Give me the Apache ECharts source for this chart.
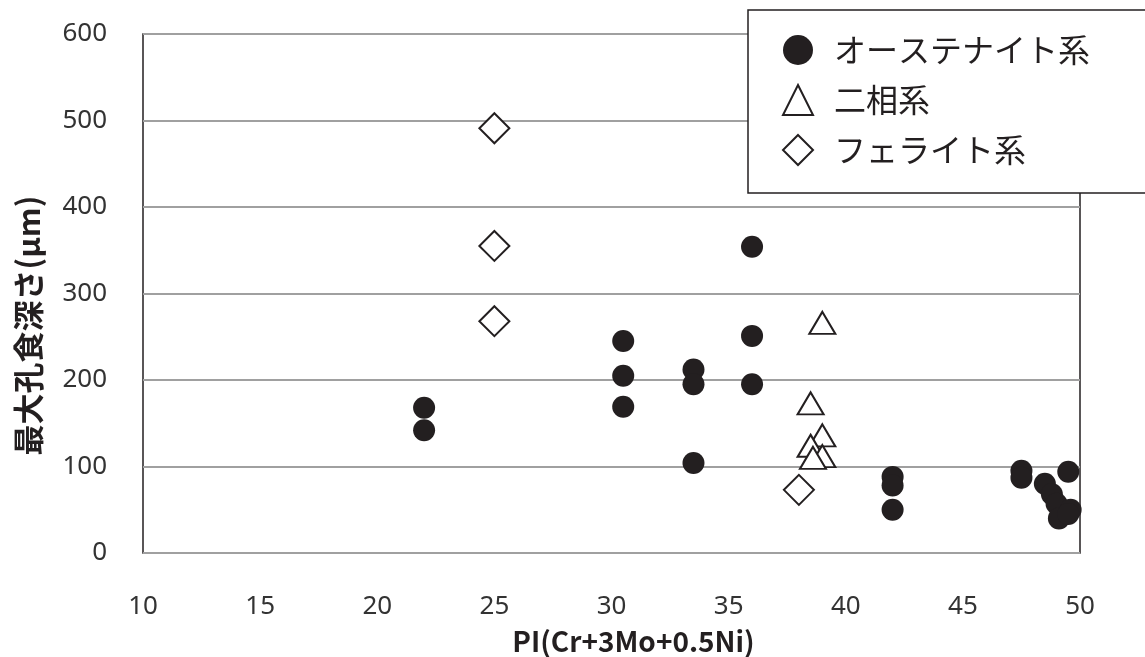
<!DOCTYPE html>
<html><head><meta charset="utf-8">
<script src="https://cdn.jsdelivr.net/npm/echarts@6/dist/echarts.min.js"></script>
<style>html,body{margin:0;padding:0;background:#fff}#c{width:1145px;height:657px}</style>
</head><body><div id="c"></div>
<script>
const seriesNames = ['オーステナイト系', '二相系', 'フェライト系'];
const austenite = [
  [22, 168], [22, 142],
  [30.5, 245], [30.5, 205], [30.5, 169],
  [33.5, 212], [33.5, 195], [33.5, 104],
  [36, 354], [36, 251], [36, 195],
  [42, 88], [42, 78], [42, 50],
  [47.5, 95], [47.5, 87], [48.5, 80], [48.8, 68], [49, 57], [49.1, 40],
  [49.5, 94], [49.6, 50], [49.5, 45]
];
const duplex = [
  [39, 266], [38.5, 173], [39, 136], [38.5, 124], [39, 112], [38.6, 110]
];
const ferrite = [
  [25, 491], [25, 355], [25, 268], [38, 73]
];
const xTicks = {min: 10, max: 50, step: 5};
const yTicks = {min: 0, max: 600, step: 100};
const xTitle = 'PI(Cr+3Mo+0.5Ni)';
const yTitle = '最大孔食深さ(μm)';

const FONT = '"Noto Sans CJK JP", "Noto Sans", sans-serif';
const INK = '#231f20';
const chart = echarts.init(document.getElementById('c'));
chart.setOption({
  animation: false,
  textStyle: {fontFamily: FONT},
  grid: {left: 143, top: 34, right: 65, bottom: 104, show: true, borderColor: INK, borderWidth: 1.5,
         containLabel: false, outerBoundsMode: 'none'},
  xAxis: {
    type: 'value', min: xTicks.min, max: xTicks.max, interval: xTicks.step,
    axisLine: {show: false}, axisTick: {show: false}, splitLine: {show: false},
    axisLabel: {fontSize: 26, color: '#333', margin: 41, fontFamily: '"Noto Sans", sans-serif'},
    name: xTitle, nameLocation: 'middle', nameGap: 74,
    nameTextStyle: {fontSize: 28, fontWeight: 'bold', color: INK, fontFamily: FONT, padding: [0, 0, 0, 44]}
  },
  yAxis: {
    type: 'value', min: yTicks.min, max: yTicks.max, interval: yTicks.step,
    axisLine: {show: false}, axisTick: {show: false},
    splitLine: {show: true, lineStyle: {color: '#a0a0a0', width: 2}},
    axisLabel: {fontSize: 26, color: '#333', margin: 36, fontFamily: '"Noto Sans", sans-serif'},
    name: yTitle, nameLocation: 'middle', nameGap: 99, nameRotate: 90,
    nameTextStyle: {fontSize: 31, fontWeight: 'bold', color: INK, fontFamily: FONT, padding: [0, 64, 0, 0]}
  },
  graphic: [{
    type: 'rect', z: 50, shape: {x: 748, y: 10, width: 420, height: 183},
    style: {fill: '#fff', stroke: INK, lineWidth: 1.5}
  }],
  legend: {
    z: 60, orient: 'vertical', left: 777, top: 29, itemGap: 18, itemWidth: 30, itemHeight: 30,
    textStyle: {fontSize: 32, lineHeight: 32, color: INK, fontFamily: FONT, padding: [0, 0, 0, 16]},
    data: seriesNames
  },
  series: [
    {name: seriesNames[0], type: 'scatter', data: austenite, symbol: 'circle', symbolSize: 22,
     itemStyle: {color: INK, opacity: 1}, z: 3},
    {name: seriesNames[1], type: 'scatter', data: duplex, symbol: 'triangle', symbolSize: [26, 22],
     itemStyle: {color: '#fff', borderColor: INK, borderWidth: 2, opacity: 1}, z: 4},
    {name: seriesNames[2], type: 'scatter', data: ferrite, symbol: 'diamond', symbolSize: [30, 30],
     itemStyle: {color: '#fff', borderColor: INK, borderWidth: 2, opacity: 1}, z: 4}
  ]
});
</script></body></html>
